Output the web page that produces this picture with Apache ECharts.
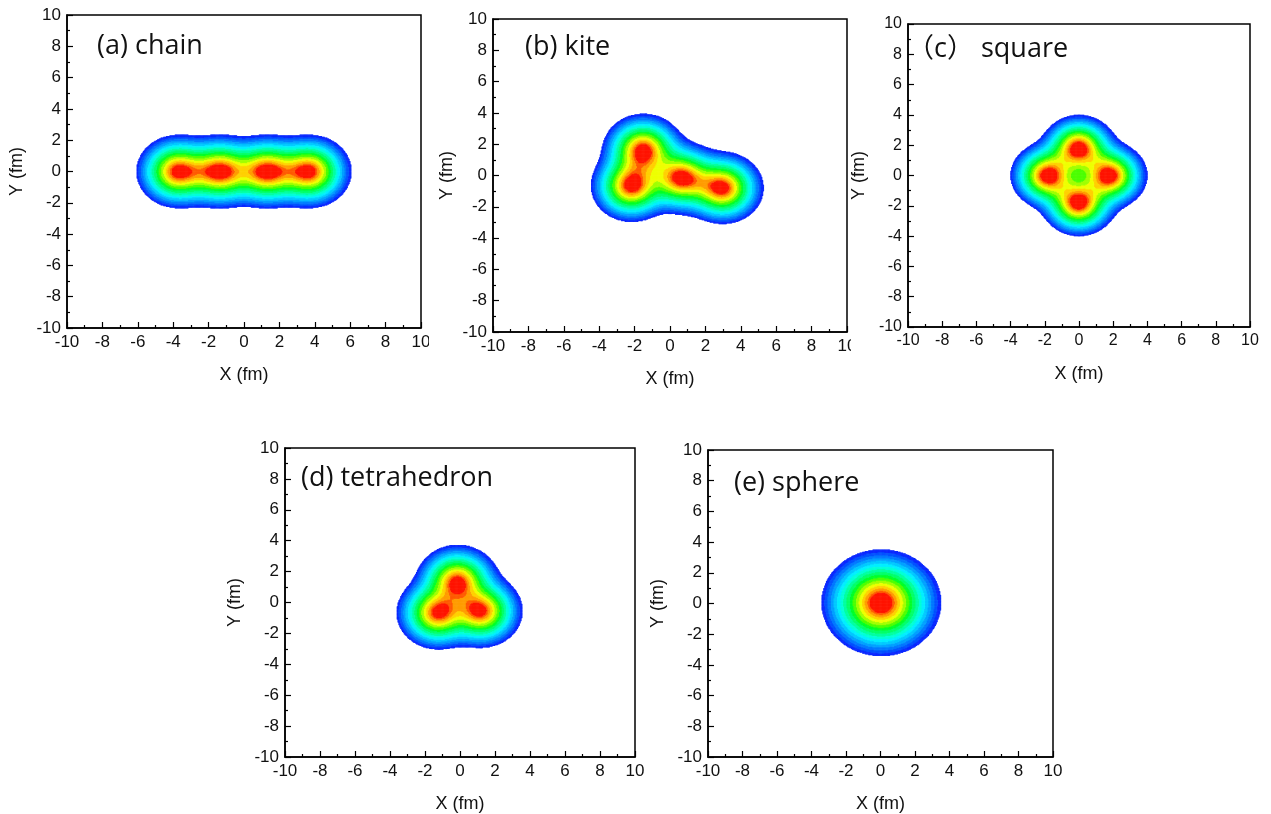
<!DOCTYPE html>
<html><head><meta charset="utf-8">
<script src="https://cdn.jsdelivr.net/npm/echarts@6/dist/echarts.min.js"></script>
<style>html,body{margin:0;padding:0;background:#fff}#c{width:1271px;height:814px}</style>
</head><body><div id="c"></div>
<script>
// ---------------- data ----------------
const panelTitles = ['(a) chain', '(b) kite', '\uFF08c\uFF09 square', '(d) tetrahedron', '(e) sphere'];
const tickValues = [-10, -8, -6, -4, -2, 0, 2, 4, 6, 8, 10];
// alpha-cluster centres (fm) per panel
const chainX = [-3.75, -1.3, 1.3, 3.75];
const chainY = [0, 0, 0, 0];
const kiteX = [-1.5, -2.17, 0.66, 3.0];
const kiteY = [1.65, -0.67, -0.15, -0.8];
const squareX = [-1.85, 1.85, 0, 0];
const squareY = [0, 0, 1.85, -1.85];
const tetraX = [-0.13, -1.24, 1.2];
const tetraY = [1.35, -0.66, -0.55];
const sphereX = [0.05];
const sphereY = [0.05];
// Gaussian width^2 (fm^2) and outer contour cut (fraction of max) per panel
const widthSq = [2.0, 1.8, 1.8, 1.5, 4.0];
const cutFraction = [0.063, 0.052, 0.0735, 0.022, 0.05];
// contour level colours, low -> high
const levelColors = ['#0a28ff','#0050ff','#0078ff','#00a0ff','#00c8ff','#00eeff','#00ffd8','#00ffa0',
  '#00ff68','#00ff28','#4cff00','#a0ff00','#eeff00','#ffd000','#ff9c00','#ff5a00','#ff1400'];
const levelExponent = 0.55;   // contour spacing (read from the ring spacing)
const peakClip = 0.91;        // top contour level as fraction of maximum

// ---------------- layout ----------------
const rects = [
  {left: 67, top: 15, width: 354, height: 313},
  {left: 493, top: 19, width: 354, height: 313},
  {left: 908, top: 24, width: 342, height: 303},
  {left: 285, top: 448, width: 350, height: 309},
  {left: 708, top: 450, width: 345, height: 307}
];
const titlePos = [[97, 30], [525, 31], [907, 33], [301, 462], [734, 467]];
const labelSize = [17, 17, 16, 17, 17];
const yNameGap = [41, 37, 40, 41, 41];

const clusters = [[chainX, chainY], [kiteX, kiteY], [squareX, squareY], [tetraX, tetraY], [sphereX, sphereY]];
const STEP = 0.05, N = 400, L = levelColors.length;
const cats = [];
for (let i = 0; i < N; i++) cats.push(i);

function buildPanel(p) {
  const cx = clusters[p][0], cy = clusters[p][1], w2 = widthSq[p];
  const vals = new Float64Array(N * N);
  let max = 0;
  for (let i = 0; i < N; i++) {
    const x = -10 + STEP * (i + 0.5);
    for (let j = 0; j < N; j++) {
      const y = -10 + STEP * (j + 0.5);
      let s = 0;
      for (let k = 0; k < cx.length; k++) {
        const dx = x - cx[k], dy = y - cy[k];
        s += Math.exp(-(dx * dx + dy * dy) / w2);
      }
      vals[i * N + j] = s;
      if (s > max) max = s;
    }
  }
  const top = max * peakClip;
  const lnCut = Math.log(top / (cutFraction[p] * max));
  const out = [];
  for (let i = 0; i < N; i++) for (let j = 0; j < N; j++) {
    const r = vals[i * N + j];
    if (r < cutFraction[p] * max) continue;
    const q = Math.min(1, r / top);
    const v = 1 - Math.pow(Math.log(1 / q) / lnCut, levelExponent);
    out.push([i, j, Math.max(0, v)]);
  }
  return out;
}

const grid = [], xAxis = [], yAxis = [], series = [], title = [];
rects.forEach((r, p) => {
  grid.push(Object.assign({show: false, outerBoundsMode: 'none'}, r));
  grid.push(Object.assign({show: true, borderColor: '#000', borderWidth: 1.5, backgroundColor: 'transparent', outerBoundsMode: 'none'}, r));
  xAxis.push({type: 'category', gridIndex: 2 * p, data: cats, show: false});
  yAxis.push({type: 'category', gridIndex: 2 * p, data: cats, show: false});
  const common = {
    type: 'value', gridIndex: 2 * p + 1,
    min: tickValues[0], max: tickValues[tickValues.length - 1], interval: tickValues[1] - tickValues[0],
    nameLocation: 'middle',
    nameTextStyle: {fontFamily: 'Liberation Sans, Arial, sans-serif', fontSize: 18, color: '#111'},
    axisLine: {show: true, onZero: false, lineStyle: {color: '#000', width: 1.5}},
    axisTick: {show: true, inside: true, length: 6, lineStyle: {color: '#000', width: 1.2}},
    minorTick: {show: true, splitNumber: 2, length: 3, lineStyle: {color: '#000', width: 1.2}},
    axisLabel: {fontFamily: 'Liberation Sans, Arial, sans-serif', fontSize: labelSize[p], color: '#111', margin: 6},
    splitLine: {show: false}, minorSplitLine: {show: false}
  };
  xAxis.push(Object.assign({}, common, {position: 'bottom', name: 'X (fm)', nameGap: 38}));
  yAxis.push(Object.assign({}, common, {position: 'left', name: 'Y (fm)', nameGap: yNameGap[p]}));
  series.push({
    type: 'heatmap', xAxisIndex: 2 * p, yAxisIndex: 2 * p,
    data: buildPanel(p), progressive: 0, silent: true, emphasis: {disabled: true}
  });
  title.push({
    text: panelTitles[p], left: titlePos[p][0], top: titlePos[p][1], padding: 0,
    textStyle: {fontFamily: 'Open Sans, Noto Sans CJK SC, sans-serif', fontSize: 27, fontWeight: 'normal', color: '#111', lineHeight: 32}
  });
});

const pieces = levelColors.map((c, k) => k === L - 1 ? {gte: k / L, lte: 2, color: c} : {gte: k / L, lt: (k + 1) / L, color: c});

const chart = echarts.init(document.getElementById('c'), null, {renderer: 'canvas'});
chart.setOption({
  animation: false,
  backgroundColor: '#fff',
  title, grid, xAxis, yAxis, series,
  visualMap: {type: 'piecewise', show: false, dimension: 2, seriesIndex: [0, 1, 2, 3, 4], pieces},
  graphic: [
    {type: 'rect', z: 100, shape: {x: 429, y: 331, width: 12, height: 26}, style: {fill: '#fff'}},
    {type: 'rect', z: 100, shape: {x: 851, y: 335, width: 12, height: 26}, style: {fill: '#fff'}}
  ]
});
</script></body></html>
